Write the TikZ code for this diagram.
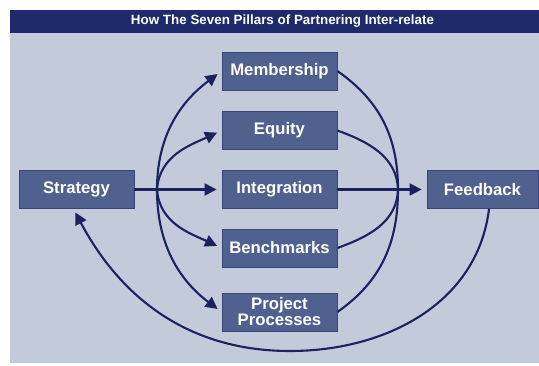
\documentclass[tikz,border=0pt]{standalone}
\usepackage{fontspec}
\setmainfont{Liberation Sans}
\usetikzlibrary{arrows.meta,calc}
\definecolor{navy}{HTML}{1F2A6C}
\definecolor{panel}{HTML}{C3CBDB}
\definecolor{boxfill}{HTML}{50608F}
\definecolor{boxline}{HTML}{38467A}
\definecolor{linec}{HTML}{1A2360}
\begin{document}
\begin{tikzpicture}[x=1pt,y=1pt,
  pillar/.style={draw=boxline, line width=0.8pt, fill=boxfill, text=white,
    font=\fontsize{16.7}{16}\selectfont\bfseries, minimum width=115pt,
    minimum height=38pt, inner sep=0pt, align=center},
  conn/.style={draw=linec, line width=2.1pt},
  arr/.style={conn, -{Triangle[length=12pt,width=12pt]}, shorten >=5pt}]
\useasboundingbox (0,0) rectangle (539,-365);
\fill[white] (0,0) rectangle (539,-365);
\fill[panel] (10,-10) rectangle (539,-363);
\fill[navy] (10,-10) rectangle (539,-33);
\node[text=white, font=\fontsize{13.4}{14}\selectfont\bfseries] (title) at (282.5,-21.5) {How The Seven Pillars of Partnering Inter-relate};

\node[pillar] (mem) at (279.5,-71) {Membership};
\node[pillar] (eq) at (279.5,-130.5) {Equity};
\node[pillar] (int) at (279.5,-189.5) {Integration};
\node[pillar] (bench) at (279.5,-248) {Benchmarks};
\node[pillar] (pp) at (279.5,-312) {Project\\Processes};
\node[pillar] (strat) at (76.5,-189.5) {Strategy};
\node[pillar, minimum width=111pt] (feed) at (482.5,-189.5) {Feedback};

\coordinate (L) at (157,-189.5);
\coordinate (R) at (398,-189.5);
\coordinate (FB) at (489,-209);
\coordinate (B) at (290,-351);
\coordinate (ST) at (73,-208);

\draw[arr] (strat.east) -- (int.west);
\draw[arr] (int.east) -- (feed.west);

\draw[arr] (L) to[out=90,in=217] (mem.west);
\draw[arr] (L) to[out=86,in=205] (eq.west);
\draw[arr] (L) to[out=-86,in=155] (bench.west);
\draw[arr] (L) to[out=-90,in=143] (pp.west);

\draw[conn] (mem.east) to[out=-35,in=90] (R);
\draw[conn] (eq.east) to[out=-20,in=92] (R);
\draw[conn] (bench.east) to[out=20,in=-92] (R);
\draw[conn] (pp.east) to[out=35,in=-90] (R);

\draw[conn] (FB) to[out=-97,in=0] (B);
\draw[arr] (B) to[out=180,in=-62] (ST);
\end{tikzpicture}
\end{document}
